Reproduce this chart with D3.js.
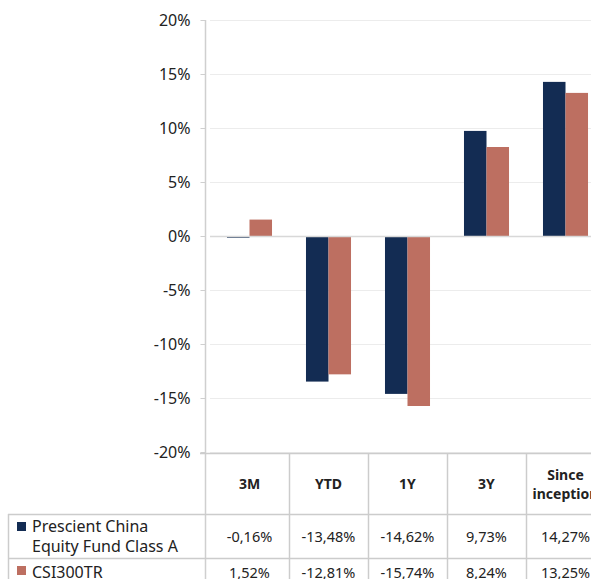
<!DOCTYPE html>
<html>
<head>
<meta charset="utf-8">
<script src="https://cdn.jsdelivr.net/npm/d3@7"></script>
<style>
  body { margin: 0; background: #fff; }
  svg { display: block; font-family: "Noto Sans", Lato, sans-serif; }
</style>
</head>
<body>
<div id="chart"></div>
<script>
const periods = ['3M', 'YTD', '1Y', '3Y', 'Since inception'];
const seriesNames = ['Prescient China Equity Fund Class A', 'CSI300TR'];
const fundValues = [-0.16, -13.48, -14.62, 9.73, 14.27];
const indexValues = [1.52, -12.81, -15.74, 8.24, 13.25];
const yTicks = [-20, -15, -10, -5, 0, 5, 10, 15, 20];
const colors = ['#132c53', '#bd6f61'];

const width = 591, height = 579;
const svg = d3.select('#chart').append('svg')
  .attr('width', width)
  .attr('height', height);

// plot area
const axisX = 205;
const x = d3.scaleBand().domain(periods).range([210, 605]).paddingInner(0.43).paddingOuter(0.215);
const x1 = d3.scaleBand().domain([0, 1]).range([0, x.bandwidth()]);
const y = d3.scaleLinear().domain([-20, 20]).range([452, 20]);

const fmt = v => v.toFixed(2).replace('.', ',') + '%';

// grid
svg.append('g').selectAll('line')
  .data(yTicks.filter(d => d !== 0))
  .enter().append('line')
  .attr('x1', 210).attr('x2', width)
  .attr('y1', d => Math.round(y(d)) + 0.5).attr('y2', d => Math.round(y(d)) + 0.5)
  .attr('stroke', '#ececec');

// y axis
const yAxis = d3.axisLeft(y).tickValues(yTicks).tickFormat(d => d + '%').tickSize(5).tickPadding(10);
const gy = svg.append('g').attr('transform', `translate(${axisX + 0.5},0)`).call(yAxis);
gy.select('.domain').remove();
gy.selectAll('.tick line').attr('stroke', '#cfcfcf');
gy.selectAll('.tick text').attr('font-size', 16).attr('fill', '#222').attr('font-family', '"Noto Sans", sans-serif');

// bars
const groups = svg.append('g').selectAll('g')
  .data(periods)
  .enter().append('g')
  .attr('transform', d => `translate(${x(d)},0)`);

[fundValues, indexValues].forEach((vals, si) => {
  groups.append('rect')
    .attr('x', x1(si))
    .attr('width', x1.bandwidth())
    .attr('y', (d, i) => y(Math.max(0, vals[i])))
    .attr('height', (d, i) => Math.max(1.5, Math.abs(y(vals[i]) - y(0))))
    .attr('fill', colors[si]);
});

// zero line
svg.append('line')
  .attr('x1', 210).attr('x2', width)
  .attr('y1', Math.round(y(0)) + 0.5).attr('y2', Math.round(y(0)) + 0.5)
  .attr('stroke', '#d8d8d8').attr('stroke-width', 1.5);

// vertical axis line (continues into table)
svg.append('line')
  .attr('x1', axisX + 0.5).attr('x2', axisX + 0.5)
  .attr('y1', 20).attr('y2', height)
  .attr('stroke', '#cfcfcf').attr('stroke-width', 1.5);

// data table
const headTop = 453, headBottom = 514, row1Bottom = 558;
const lineColor = '#cccccc';
const tbl = svg.append('g');

tbl.append('line').attr('x1', 200).attr('x2', width).attr('y1', headTop + 0.5).attr('y2', headTop + 0.5).attr('stroke', lineColor).attr('stroke-width', 1.5);
tbl.append('line').attr('x1', 8).attr('x2', width).attr('y1', headBottom + 0.5).attr('y2', headBottom + 0.5).attr('stroke', lineColor).attr('stroke-width', 1.5);
tbl.append('line').attr('x1', 8).attr('x2', width).attr('y1', row1Bottom + 0.5).attr('y2', row1Bottom + 0.5).attr('stroke', lineColor).attr('stroke-width', 1.5);
tbl.append('line').attr('x1', 8.5).attr('x2', 8.5).attr('y1', headBottom).attr('y2', height).attr('stroke', lineColor).attr('stroke-width', 1.5);

// column separators
periods.forEach(p => {
  const bx = x(p) + x.bandwidth() + x.step() * x.paddingInner() / 2;
  tbl.append('line')
    .attr('x1', Math.round(bx) + 0.5).attr('x2', Math.round(bx) + 0.5)
    .attr('y1', headTop).attr('y2', height)
    .attr('stroke', lineColor).attr('stroke-width', 1.5);
});

// header labels
periods.forEach(p => {
  const cx = x(p) + x.bandwidth() / 2;
  const words = p === 'Since inception' ? ['Since', 'inception'] : [p];
  const t = tbl.append('text')
    .attr('x', cx)
    .attr('text-anchor', 'middle')
    .attr('font-size', 14)
    .attr('font-weight', 'bold')
    .attr('fill', '#222');
  words.forEach((w, i) => {
    t.append('tspan').attr('x', cx)
      .attr('y', words.length === 1 ? 489 : 480 + i * 19)
      .text(w);
  });
});

// rows
const rows = [fundValues, indexValues];
const rowTextY = [[532, 552], [578]];
rows.forEach((vals, ri) => {
  const valY = ri === 0 ? 542 : 578;
  vals.forEach((v, i) => {
    tbl.append('text')
      .attr('x', x(periods[i]) + x.bandwidth() / 2)
      .attr('y', valY)
      .attr('text-anchor', 'middle')
      .attr('font-size', 14.5)
      .attr('fill', '#222')
      .text(fmt(v));
  });
  // legend cell
  tbl.append('rect')
    .attr('x', 17).attr('y', ri === 0 ? 522 : 566)
    .attr('width', 9).attr('height', 9)
    .attr('fill', colors[ri]);
  const lines = ri === 0 ? ['Prescient China', 'Equity Fund Class A'] : [seriesNames[1]];
  lines.forEach((l, li) => {
    tbl.append('text')
      .attr('x', 32)
      .attr('y', rowTextY[ri][li])
      .attr('font-size', 16)
      .attr('fill', '#222')
      .text(l);
  });
});
</script>
</body>
</html>
